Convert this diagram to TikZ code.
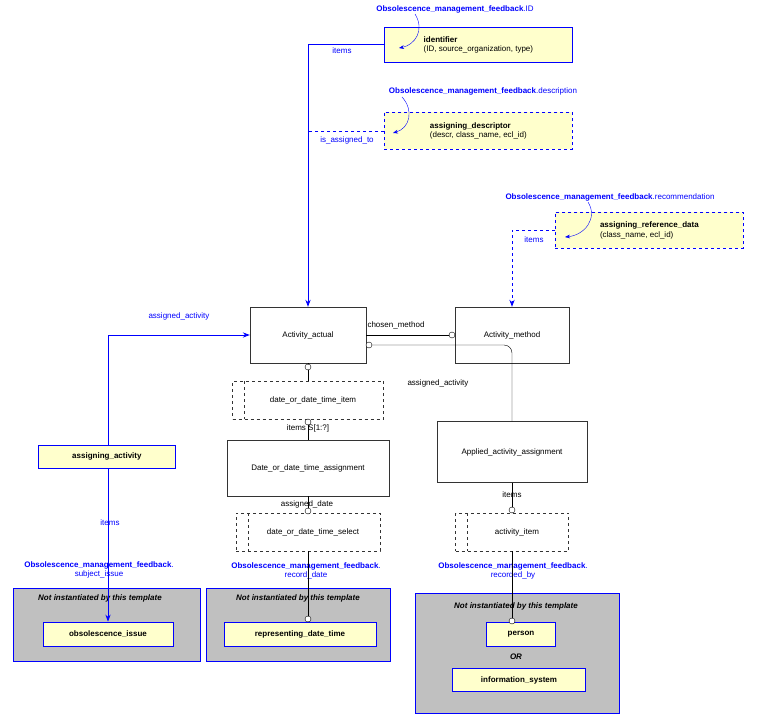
\documentclass[tikz,border=0pt]{standalone}
\usepackage{fontspec}
\setmainfont{Liberation Sans}
\usetikzlibrary{arrows.meta}
\definecolor{entblue}{RGB}{0,0,255}
\definecolor{entyellow}{RGB}{255,255,204}
\definecolor{entgrey}{RGB}{192,192,192}
\begin{document}
\begin{tikzpicture}[x=1pt, y=-1pt, font=\fontsize{8}{9.5}\selectfont,
		entity_style/.style={draw=black!80,fill=white,minimum width=#1,minimum height=56,inner sep=1pt},
		select_style/.style={draw=black!80,dashed,minimum width=#1,minimum height=38,inner sep=1pt},
		tmpl_style/.style={draw=entblue,thick,fill=entyellow,align=left,anchor=north west,inner sep=3pt},
		ref_style/.style={draw=entblue,thick,fill=entyellow,font=\fontsize{8}{9.5}\selectfont\bfseries,minimum height=24,inner sep=3pt},
		grey_style/.style={draw=entblue,thick,fill=entgrey,anchor=north west},
		edge_style/.style={draw=black},
		blue_edge/.style={draw=entblue,thick},
		blue_label/.style={text=entblue,align=center},
		ring/.style={circle,draw=black,fill=white,inner sep=0pt,minimum size=6pt}]
	\useasboundingbox (0,0) rectangle (758,715);

	% template boxes at the top
	\node[tmpl_style,minimum width=188,minimum height=35] (ident) at (384,27) {\textbf{identifier}\\(ID, source\_organization, type)};
	\node[tmpl_style,dashed,minimum width=188,minimum height=37] (descr) at (384,112) {\textbf{assigning\_descriptor}\\(descr, class\_name, ecl\_id)};
	\node[tmpl_style,dashed,minimum width=188,minimum height=36] (refdata) at (555,212) {\textbf{assigning\_reference\_data}\\(class\_name, ecl\_id)};
	\node[blue_label] (t1) at (455,9) {\textbf{Obsolescence\_management\_feedback}.ID};
	\node[blue_label] (t2) at (483,91) {\textbf{Obsolescence\_management\_feedback}.description};
	\node[blue_label] (t3) at (610,197) {\textbf{Obsolescence\_management\_feedback}.recommendation};
	\draw[entblue,-{Stealth[length=5pt]}] (415,14) .. controls (425,30) and (415,45) .. (399,48);
	\draw[entblue,-{Stealth[length=5pt]}] (402,97) .. controls (414,110) and (410,128) .. (393,133);
	\draw[entblue,-{Stealth[length=5pt]}] (588,202) .. controls (598,218) and (585,235) .. (565,237);

	% entities
	\node[entity_style=116] (act) at (308,335) {Activity\_actual};
	\node[entity_style=114] (meth) at (512,335) {Activity\_method};
	\node[entity_style=150,minimum height=61] (appl) at (512,452) {Applied\_activity\_assignment};
	\node[entity_style=162] (dtass) at (308,468) {Date\_or\_date\_time\_assignment};
	\node[select_style=151] (dtitem) at (308,400) {\hspace{10pt}date\_or\_date\_time\_item};
	\node[select_style=144] (dtsel) at (308,532) {\hspace{10pt}date\_or\_date\_time\_select};
	\node[select_style=113] (actitem) at (512,532) {\hspace{10pt}activity\_item};
	\draw[black!80,dashed] (244,381) -- (244,419);
	\draw[black!80,dashed] (248,513) -- (248,551);
	\draw[black!80,dashed] (467,513) -- (467,551);

	% assigning activity
	\node[tmpl_style,minimum width=137,minimum height=23,font=\fontsize{8}{9.5}\selectfont\bfseries] (assign) at (38,445) {assigning\_activity};

	% grey frames
	\node[grey_style,minimum width=187,minimum height=73] (g1) at (13,588) {};
	\node[grey_style,minimum width=184,minimum height=73] (g2) at (206,588) {};
	\node[grey_style,minimum width=204,minimum height=120] (g3) at (415,593) {};
	\node[font=\fontsize{8}{9.5}\selectfont\bfseries\itshape] (n1) at (100,598) {Not instantiated by this template};
	\node[font=\fontsize{8}{9.5}\selectfont\bfseries\itshape] (n2) at (298,598) {Not instantiated by this template};
	\node[font=\fontsize{8}{9.5}\selectfont\bfseries\itshape] (n3) at (516,606) {Not instantiated by this template};
	\node[ref_style,minimum width=130] (issue) at (108,634) {obsolescence\_issue};
	\node[ref_style,minimum width=152] (repdt) at (300,634) {representing\_date\_time};
	\node[ref_style,minimum width=69] (person) at (521,634) {person};
	\node[font=\fontsize{8}{9.5}\selectfont\bfseries\itshape] (or) at (516,657) {OR};
	\node[ref_style,minimum width=133,minimum height=23] (infsys) at (519,680) {information\_system};
	\node[blue_label] (l1) at (99,570) {\textbf{Obsolescence\_management\_feedback}.\\subject\_issue};
	\node[blue_label] (l2) at (306,571) {\textbf{Obsolescence\_management\_feedback}.\\record\_date};
	\node[blue_label] (l3) at (513,571) {\textbf{Obsolescence\_management\_feedback}.\\recorded\_by};

	% blue connectors
	\draw[blue_edge,-{Stealth[length=7pt]}] (ident.west |- 0,44) -- (308,44) -- (act.north);
	\node[text=entblue] (li) at (342,51) {items};
	\draw[blue_edge,dashed] (descr.west |- 0,131) -- (308,131);
	\node[text=entblue] (la) at (347,140) {is\_assigned\_to};
	\draw[blue_edge,dashed,-{Stealth[length=7pt]}] (refdata.west |- 0,230) -- (512,230) -- (meth.north);
	\node[text=entblue] (lr) at (534,240) {items};
	\draw[blue_edge,-{Stealth[length=7pt]}] (assign.north -| 108,0) -- (108,335) -- (act.west);
	\node[text=entblue] (laa) at (179,316) {assigned\_activity};
	\draw[blue_edge,-{Stealth[length=7pt]}] (108,468) -- (issue.north -| 108,0);
	\node[text=entblue] (lit) at (110,523) {items};

	% black connectors
	\draw[edge_style] (act.east |- 0,335) -- (meth.west);
	\node[ring] (r1) at (452,335) {};
	\node (lcm) at (396,325) {chosen\_method};
	\draw[edge_style,rounded corners=8pt] (369,345) -- (512,345) -- (appl.north);
	\node[ring] (r2) at (369,345) {};
	\node (laa2) at (438,383) {assigned\_activity};
	\draw[edge_style] (act.south) -- (dtitem.north);
	\node[ring] (r3) at (308,367) {};
	\draw[edge_style] (dtitem.south) -- (dtass.north);
	\node[ring] (r4) at (308,422) {};
	\node (lis) at (308,428) {items S[1:?]};
	\draw[edge_style] (dtass.south) -- (dtsel.north);
	\node[ring] (r5) at (308,511) {};
	\node (lad) at (307,504) {assigned\_date};
	\draw[edge_style] (dtsel.south) -- (repdt.north -| 308,0);
	\node[ring] (r6) at (308,619) {};
	\draw[edge_style] (appl.south) -- (actitem.north);
	\node[ring] (r7) at (512,510) {};
	\node (lai) at (512,495) {items};
	\draw[edge_style] (actitem.south) -- (512,621);
	\node[ring] (r8) at (512,621) {};
\end{tikzpicture}
\end{document}
